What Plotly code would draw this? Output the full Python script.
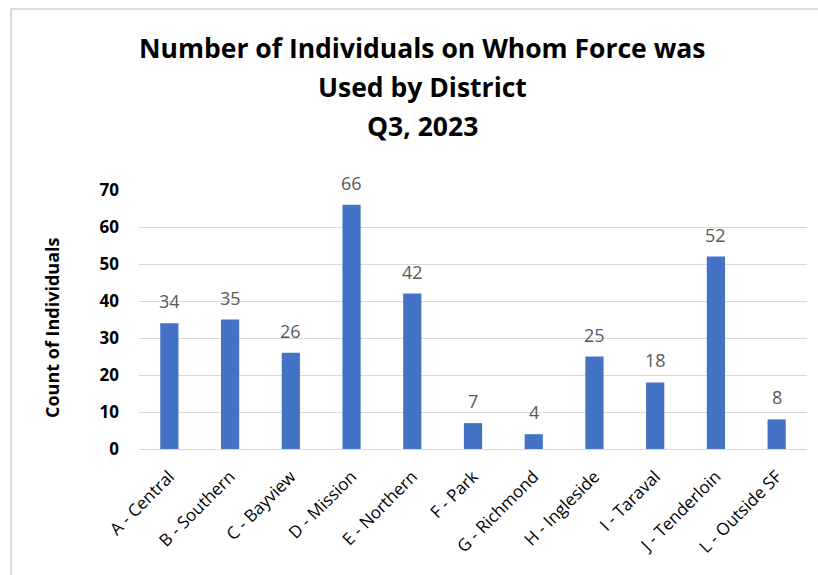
import plotly.graph_objects as go

districts = ["A - Central", "B - Southern", "C - Bayview", "D - Mission", "E - Northern",
             "F - Park", "G - Richmond", "H - Ingleside", "I - Taraval", "J - Tenderloin",
             "L - Outside SF"]
counts = [34, 35, 26, 66, 42, 7, 4, 25, 18, 52, 8]
y_ticks = [0, 10, 20, 30, 40, 50, 60, 70]

FONT = "Open Sans"
W, H = 818, 575
L, R, T, B = 139, 11, 190, 126
pw, ph = W - L - R, H - T - B


def px_x(x):
    return (x - L) / pw


def px_y(y):
    return (H - B - y) / ph


fig = go.Figure()
fig.add_trace(go.Bar(
    x=districts, y=counts,
    marker=dict(color="#4472C4", line=dict(width=0)),
    width=0.3,
))

# value labels above each bar
for d, c in zip(districts, counts):
    fig.add_annotation(x=d, y=c, text=str(c), showarrow=False,
                       xanchor="center", yanchor="bottom", yshift=8,
                       font=dict(family=FONT, size=18, color="#595959"))

fig.update_layout(
    width=W, height=H,
    margin=dict(l=L, r=R, t=T, b=B),
    paper_bgcolor="white", plot_bgcolor="white",
    showlegend=False,
    font=dict(family=FONT, color="black"),
    xaxis=dict(
        tickangle=-45, tickfont=dict(family=FONT, size=17, color="#000000"),
        showgrid=False, showline=True, linecolor="#D9D9D9", linewidth=1,
        ticks="", ticklabelstandoff=10,
    ),
    yaxis=dict(
        range=[0, 70], tickvals=y_ticks,
        tickfont=dict(family=FONT, size=17, color="#000000", weight="bold"),
        showgrid=True, gridcolor="#D9D9D9", gridwidth=1.3,
        zeroline=False, showline=False, ticks="", ticklabelstandoff=19,
    ),
)

# chart frame
fig.add_shape(type="rect", xref="paper", yref="paper",
              x0=px_x(11), x1=px_x(840), y0=px_y(600), y1=px_y(9),
              line=dict(color="#D9D9D9", width=2), fillcolor="rgba(0,0,0,0)", layer="below")

title_lines = ["Number of Individuals on Whom Force was", "Used by District", "Q3, 2023"]
for i, line in enumerate(title_lines):
    fig.add_annotation(text=f"<b>{line}</b>", xref="paper", yref="paper",
                       x=px_x(422), y=px_y(48 + 39 * i), showarrow=False,
                       xanchor="center", yanchor="middle",
                       font=dict(family=FONT, size=26.5, color="black"))

fig.add_annotation(text="<b>Count of Individuals</b>", xref="paper", yref="paper",
                   x=px_x(52), y=px_y(328), showarrow=False, textangle=-90,
                   xanchor="center", yanchor="middle",
                   font=dict(family=FONT, size=18, color="black"))

fig.write_html("out.html")
